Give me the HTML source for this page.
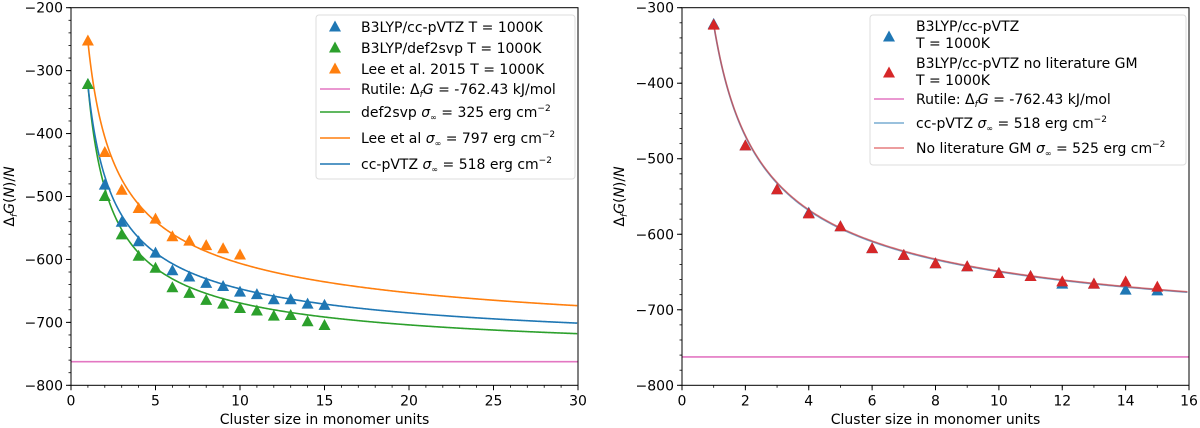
<!DOCTYPE html>
<html><head><meta charset="utf-8">
<style>
html,body{margin:0;padding:0;background:#fff;}
svg{display:block;font-family:"DejaVu Sans","Liberation Sans",sans-serif;}
</style></head>
<body>
<svg id="fig" width="1200" height="428" viewBox="0 0 1200 428" xmlns="http://www.w3.org/2000/svg"></svg>
<script>
// ---- data: left panel ----
const nBlue = [1,2,3,4,5,6,7,8,9,10,11,12,13,14,15];
const gBlue = [-322,-482,-541,-572,-590,-618,-628,-638,-643,-652,-656,-664,-664,-671,-673];
const nGreen = [1,2,3,4,5,6,7,8,9,10,11,12,13,14,15];
const gGreen = [-322,-500,-561,-595,-614,-645,-654,-665,-671,-678,-682,-690,-689,-699,-705];
const nOrange = [1,2,3,4,5,6,7,8,9,10];
const gOrange = [-253,-430,-490,-519,-536,-564,-571,-578,-583,-593];
const rutileG = -762.43;
// fit curves: G(N) = rutile + A * N^-p
const fitNames = ["def2svp","Lee et al","cc-pVTZ"];
const fitA = [440,509,440];
const fitP = [0.674,0.513,0.58];
// ---- data: right panel ----
const nRBlue = [1,2,3,4,5,6,7,8,9,10,11,12,13,14,15];
const gRBlue = [-322,-483,-541,-572,-590,-619,-628,-639,-643,-652,-656,-666,-666,-674,-675];
const nRed = [1,2,3,4,5,6,7,8,9,10,11,12,13,14,15];
const gRed = [-323,-483,-541,-573,-590,-619,-628,-639,-643,-652,-656,-663,-666,-663,-670];
const rFitA = [440,441];
const rFitP = [0.591,0.589];
// ticks
const leftXTicks = [0,5,10,15,20,25,30];
const leftYTicks = [-800,-700,-600,-500,-400,-300,-200];
const rightXTicks = [0,2,4,6,8,10,12,14,16];
const rightYTicks = [-800,-700,-600,-500,-400,-300];

const NS="http://www.w3.org/2000/svg";
const svg=document.getElementById('fig');
function el(tag,attrs,parent){const e=document.createElementNS(NS,tag);for(const k in attrs)e.setAttribute(k,attrs[k]);(parent||svg).appendChild(e);return e;}
const C={blue:'#1f77b4',green:'#2ca02c',orange:'#ff7f0e',red:'#d62728',pink:'#e377c2'};
const FS=14;

function panel(o){
  const g=el('g',{});
  
  
  const sx=v=>o.x0+(v-o.xmin)/(o.xmax-o.xmin)*(o.x1-o.x0);
  const sy=v=>o.y1-(v-o.ymin)/(o.ymax-o.ymin)*(o.y1-o.y0);
  const rl=el('line',{x1:o.x0,x2:o.x1,y1:sy(rutileG),y2:sy(rutileG),stroke:C.pink,'stroke-width':1.6},g);
  
  
  o.curves.forEach(c=>{
    let d='';
    for(let n=1;n<=o.xmax;n+=0.05){d+=(d?'L':'M')+sx(n).toFixed(2)+','+sy(rutileG+c.A*Math.pow(n,-c.p)).toFixed(2);}
    const p=el('path',{d:d,fill:'none',stroke:c.color,'stroke-width':1.6,'stroke-opacity':c.op||1},g);
    
    
  });
  o.series.forEach(s=>{
    s.n.forEach((n,i)=>{
      const x=sx(n),y=sy(s.g[i]);
      const t=el('path',{d:`M${x},${y-6.5}L${x+6},${y+4.5}L${x-6},${y+4.5}Z`,fill:s.color},g);
      
      
    });
  });
  const fr=el('rect',{x:o.x0,y:o.y0,width:o.x1-o.x0,height:o.y1-o.y0,fill:'none',stroke:'#000','stroke-width':1},g);
  
  
  o.xt.forEach(v=>{
    el('line',{x1:sx(v),x2:sx(v),y1:o.y1,y2:o.y1+5,stroke:'#000'},g);
    const t=el('text',{x:sx(v),y:o.y1+20,'text-anchor':'middle','font-size':FS},g);
    t.textContent=v;
    
    
  });
  for(let v=o.xmin;v<=o.xmax;v+=o.xminor){el('line',{x1:sx(v),x2:sx(v),y1:o.y1,y2:o.y1+2.5,stroke:'#000','stroke-width':0.8},g);}
  o.yt.forEach(v=>{
    el('line',{x1:o.x0-5,x2:o.x0,y1:sy(v),y2:sy(v),stroke:'#000'},g);
    const t=el('text',{x:o.x0-8,y:sy(v)+5,'text-anchor':'end','font-size':FS},g);
    t.textContent='\u2212'+Math.abs(v);
    
    
  });
  for(let v=o.ymin;v<=o.ymax;v+=20){el('line',{x1:o.x0-2.5,x2:o.x0,y1:sy(v),y2:sy(v),stroke:'#000','stroke-width':0.8},g);}
  const xl=el('text',{x:(o.x0+o.x1)/2,y:424,'text-anchor':'middle','font-size':FS},g);
  xl.textContent='Cluster size in monomer units';
  
  
  const yl=el('text',{transform:`translate(${o.ylx},${(o.y0+o.y1)/2}) rotate(-90)`,'text-anchor':'middle','font-size':FS},g);
  yl.innerHTML='Δ<tspan font-size="9" dy="3" font-style="italic">f</tspan><tspan dy="-3" font-style="italic">G</tspan>(<tspan font-style="italic">N</tspan>)/<tspan font-style="italic">N</tspan>';
  
  
  const L=o.legend;
  const lg=el('g',{},g);
  
  
  el('rect',{x:L.x,y:L.y,width:L.w,height:L.h,rx:3,fill:'#fff','fill-opacity':0.85,stroke:'#ddd'},lg);
  L.items.forEach(it=>{
    const eg=el('g',{},lg);
    
    
    if(it.type==='m'){const x=L.mx,y=it.my;el('path',{d:`M${x},${y-6.5}L${x+6},${y+4.5}L${x-6},${y+4.5}Z`,fill:it.color},eg);}
    else el('line',{x1:L.mx-15,x2:L.mx+15,y1:it.my,y2:it.my,stroke:it.color,'stroke-width':1.6,'stroke-opacity':it.op||1},eg);
    it.lines.forEach((ln,k)=>{const t=el('text',{x:L.tx,y:it.ty[k],'font-size':FS},eg);t.innerHTML=ln;});
  });
}
const sig='<tspan font-style="italic">σ</tspan><tspan font-size="8" dy="3">∞</tspan><tspan dy="-3"> =  </tspan>';
const cm='cm<tspan font-size="9" dy="-6">−2</tspan>';
const dfg='Δ<tspan font-size="9" dy="3" font-style="italic">f</tspan><tspan dy="-3" font-style="italic">G</tspan>';
panel({name:'left-panel',x0:71,x1:578,y0:7.7,y1:385.3,xmin:0,xmax:30,ymin:-800,ymax:-200,xt:leftXTicks,yt:leftYTicks,xminor:1,ylx:14,
  curves:[{name:'def2svp-fit',A:fitA[0],p:fitP[0],color:C.green},{name:'lee-fit',A:fitA[1],p:fitP[1],color:C.orange},{name:'cc-pvtz-fit',A:fitA[2],p:fitP[2],color:C.blue}],
  series:[{name:'orange',n:nOrange,g:gOrange,color:C.orange},{name:'blue',n:nBlue,g:gBlue,color:C.blue},{name:'green',n:nGreen,g:gGreen,color:C.green}],
  legend:{x:316,y:15,w:259,h:164,mx:335,tx:361,items:[
    {type:'m',color:C.blue,my:27,lines:['B3LYP/cc-pVTZ T = 1000K'],ty:[32]},
    {type:'m',color:C.green,my:48,lines:['B3LYP/def2svp T = 1000K'],ty:[53]},
    {type:'m',color:C.orange,my:69,lines:['Lee et al. 2015 T = 1000K'],ty:[74]},
    {type:'l',color:C.pink,my:89,lines:['Rutile: '+dfg+' = -762.43 kJ/mol'],ty:[94]},
    {type:'l',color:C.green,my:112,lines:['def2svp '+sig+'325 erg '+cm],ty:[117]},
    {type:'l',color:C.orange,my:138,lines:['Lee et al '+sig+'797 erg '+cm],ty:[143]},
    {type:'l',color:C.blue,my:164,lines:['cc-pVTZ '+sig+'518 erg '+cm],ty:[169]}]}
});
panel({name:'right-panel',x0:682,x1:1189,y0:7.7,y1:385.3,xmin:0,xmax:16,ymin:-800,ymax:-300,xt:rightXTicks,yt:rightYTicks,xminor:1,ylx:624,
  curves:[{name:'cc-pvtz-fit',A:rFitA[0],p:rFitP[0],color:C.blue,op:0.6},{name:'no-lit-gm-fit',A:rFitA[1],p:rFitP[1],color:C.red,op:0.6}],
  series:[{name:'blue',n:nRBlue,g:gRBlue,color:C.blue},{name:'red',n:nRed,g:gRed,color:C.red}],
  legend:{x:870,y:15,w:316,h:150,mx:889,tx:916,items:[
    {type:'m',color:C.blue,my:37,lines:['B3LYP/cc-pVTZ','T = 1000K'],ty:[31,48]},
    {type:'m',color:C.red,my:73,lines:['B3LYP/cc-pVTZ no literature GM','T = 1000K'],ty:[68,85]},
    {type:'l',color:C.pink,my:99,lines:['Rutile: '+dfg+' = -762.43 kJ/mol'],ty:[104]},
    {type:'l',color:C.blue,op:0.6,my:123,lines:['cc-pVTZ '+sig+'518 erg '+cm],ty:[128]},
    {type:'l',color:C.red,op:0.6,my:148,lines:['No literature GM '+sig+'525 erg '+cm],ty:[153]}]}
});
</script>
</body></html>
